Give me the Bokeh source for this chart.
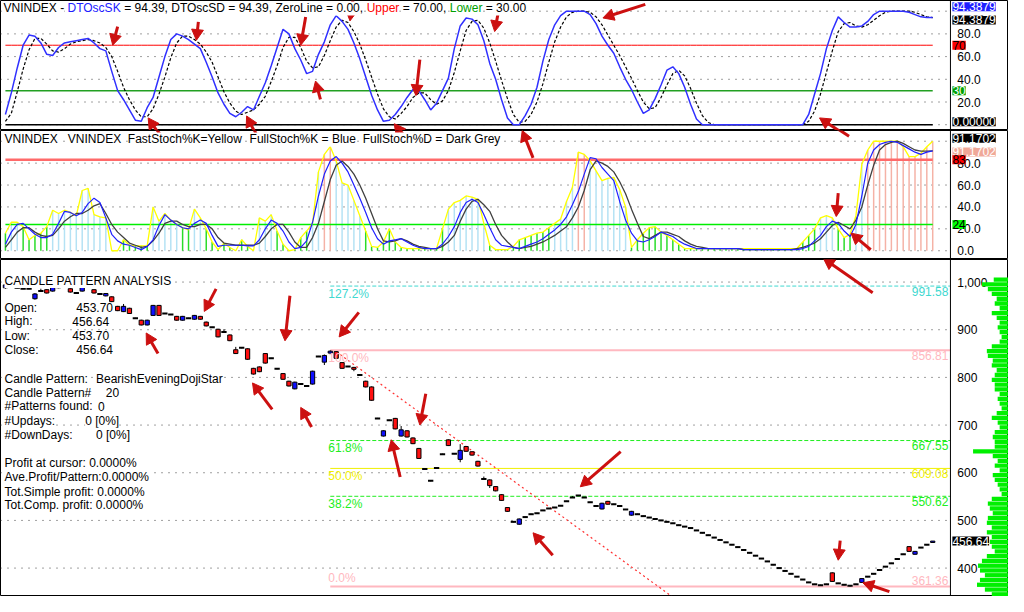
import math
from bokeh.plotting import figure
from bokeh.models import Range1d, Label, Span
from bokeh.layouts import column
from bokeh.embed import file_html
from bokeh.resources import INLINE
from bokeh.core.properties import value

FONT = "Liberation Sans"
FS = "12px"

# ------------------------------------------------------------------ data
# DT oscillator (top panel)
SK = [9, 28, 50, 70, 79, 78, 72, 62, 61, 68,
      72, 73, 74, 75, 76, 72, 67, 65, 47, 30,
      22, 13, 4, 3, 15, 24, 42, 60, 75, 80,
      78, 75, 71, 67, 55, 42, 28, 18, 10, 7,
      11, 16, 13, 25, 37, 52, 68, 84, 80, 67,
      57, 45, 47, 62, 73, 88, 96, 91, 84, 72,
      58, 42, 26, 13, 3, 4, 9, 16, 24, 31,
      30, 22, 13, 19, 30, 41, 67, 87, 94, 93,
      88, 74, 54, 40, 22, 6, 0, 0, 8, 18,
      33, 56, 75, 88, 96, 100, 100, 100, 100, 97,
      89, 78, 70, 63, 51, 40, 31, 20, 10, 13,
      23, 35, 48, 51, 45, 33, 18, 5, 0, 0,
      0, 0, 0, 0, 0, 0, 0, 0, 0, 0,
      0, 0, 0, 0, 0, 0, 9, 27, 45, 67,
      83, 95, 90, 86, 86, 87, 91, 97, 100, 100,
      100, 100, 100, 99, 97, 95, 94.4, 94.3879]
SD = [3, 10, 29, 49, 66, 76, 76, 71, 65, 64,
      67, 71, 73, 74, 75, 74, 72, 68, 60, 47,
      33, 22, 13, 7, 7, 14, 27, 42, 59, 72,
      78, 78, 75, 71, 64, 55, 42, 29, 19, 12,
      9, 11, 13, 18, 25, 38, 52, 68, 77, 77,
      68, 56, 50, 51, 61, 74, 86, 92, 90, 82,
      71, 57, 42, 27, 14, 7, 5, 10, 16, 24,
      28, 28, 22, 18, 21, 30, 46, 65, 83, 91,
      92, 85, 72, 56, 39, 23, 9, 2, 3, 9,
      20, 36, 55, 73, 86, 95, 99, 100, 100, 99,
      95, 88, 79, 70, 61, 51, 41, 30, 20, 14,
      15, 24, 35, 45, 48, 43, 32, 19, 8, 2,
      0, 0, 0, 0, 0, 0, 0, 0, 0, 0,
      0, 0, 0, 0, 0, 0, 3, 12, 27, 46,
      65, 82, 89, 90, 87, 86, 88, 92, 96, 99,
      100, 100, 100, 100, 99, 97, 95, 94.3879]
DT_UPPER = 70
DT_LOWER = 30
DT_ZERO = 0
DT_TICKS = [0, 20, 40, 60, 80, 100]
DT_LABEL_TICKS = [20, 40, 60, 80]

# Stochastics (middle panel)
FAST_K = [16, 26, 26, 22, 10, 14, 16, 22, 37, 34,
          37, 35, 32, 55, 57, 33, 31, 30, 0, 0,
          10, 5, 4.5, 4.5, 4.5, 40, 27, 34, 28, 24,
          21, 19, 38, 30, 20, 8, 1, 7, 3, 0,
          10, 4, 0, 30, 27, 33, 18, 6, 0, 1,
          12, 18, 25, 72, 88, 95, 82, 62, 60, 46,
          32, 18, 4, 3, 8, 20, 8, 3, 2, 2,
          2, 2, 2, 2, 20, 38, 44, 46, 50, 49,
          47, 25, 5, 1, 1, 1, 4, 10, 12, 14,
          16, 17, 21, 25, 29, 45, 58, 90, 88, 82,
          73, 64, 66, 67, 56, 40, 3, 10, 16, 21,
          22, 17, 14, 10, 6, 2, 2, 2, 2, 2,
          2, 2, 2, 2, 2, 2, 2, 2, 2, 2,
          2, 2, 2, 2, 2, 8, 14, 20, 30, 32,
          30, 20, 12, 15, 32, 79, 92, 100, 100, 100,
          100, 100, 95, 86, 86, 89, 95, 100]
FULL_K = [6, 17, 24, 25, 20, 15, 12, 12, 15, 25,
          36, 35, 32, 35, 43, 48, 44, 30, 15, 9,
          6, 5, 3, 1, 4, 10, 23, 33, 28, 24,
          21, 20, 25, 28, 25, 14, 4, 5, 5, 5,
          5, 4.5, 4.5, 10, 20, 28, 25, 18, 8, 2,
          3, 9, 26, 50, 70, 82, 86, 80, 72, 60,
          48, 35, 21, 11, 6, 9, 10, 11, 8, 5,
          3, 2, 2, 2, 6, 13, 22, 35, 44, 47,
          44, 33, 21, 10, 5, 4, 3, 2, 4, 6,
          8, 11, 15, 19, 24, 31, 42, 54, 70, 85,
          84, 76, 70, 64, 45, 28, 16, 9, 8, 10,
          13, 17, 15, 13, 9, 6, 4, 2, 2, 2,
          2, 2, 2, 2, 2, 1, 1, 1, 1, 1,
          1, 1, 1, 1, 1, 2, 4, 9, 14, 22,
          27, 25, 18, 13, 24, 50, 80, 92, 97, 99,
          100, 99, 96, 93, 90, 88, 90, 91.1702]
FULL_D = [3, 10, 17, 21, 21, 17, 14, 13, 14, 20,
          27, 31, 34, 34, 37, 41, 43, 34, 24, 17,
          12, 7, 5, 3, 4, 9, 16, 25, 27, 27,
          24, 22, 22, 24, 24, 20, 12, 7, 6, 5,
          5, 5, 5, 7, 13, 20, 24, 24, 17, 8,
          3, 3, 12, 25, 45, 65, 78, 82, 77, 70,
          60, 48, 34, 20, 9, 8, 9, 11, 9, 6,
          4, 3, 2, 2, 4, 8, 14, 27, 38, 45,
          47, 42, 36, 24, 14, 8, 3, 2, 3, 4,
          6, 8, 11, 14, 18, 22, 30, 40, 55, 74,
          82, 80, 77, 72, 63, 52, 38, 25, 13, 11,
          14, 17, 17, 15, 13, 9, 6, 4, 3, 2,
          2, 2, 2, 2, 2, 1, 1, 1, 1, 1,
          1, 1, 1, 1, 2, 3, 5, 7, 11, 17,
          23, 26, 23, 20, 28, 40, 60, 78, 92, 97,
          99, 100, 98, 95, 92, 91, 91, 91.1702]
ST_UPPER = 83
ST_LOWER = 24
ST_TICKS = [0, 20, 40, 60, 80, 100]
ST_LABEL_TICKS = [0, 20, 40, 60, 80]

# Candles (bottom panel)
OPEN = [988, 990, 988, 986, 986, 965, 981, 984, 981, 992,
        990, 986, 977, 981, 990, 984, 975, 971, 969, 949,
        938, 945, 924, 920, 910, 930, 951, 934, 932, 928,
        920, 924, 922, 928, 916, 905, 901, 895, 889, 858,
        862, 860, 819, 822, 850, 840, 818, 808, 792, 776,
        786, 782, 786, 844, 832, 851, 854, 831, 823, 821,
        805, 792, 780, 714, 677, 710, 714, 677, 688, 673,
        651, 608, 583, 610, 639, 669, 640, 628, 655, 644,
        624, 587, 585, 571, 554, 527, 497, 492, 507, 513,
        515, 521, 525, 527, 531, 540, 548, 552, 548, 538,
        530, 524, 540, 534, 530, 523, 511, 513, 509, 506,
        503, 500, 497, 494, 490, 487, 484, 479, 474, 469,
        464, 459, 454, 449, 444, 438, 432, 426, 420, 414,
        407, 400, 394, 388, 382, 376, 370, 366, 364, 366,
        390, 368, 365, 363, 366, 370, 382, 388, 396, 403,
        410, 419, 429, 445, 429, 443, 449, 453.70]
HIGH = [996, 991, 989, 987, 987, 977, 986, 985, 991, 993,
        991, 987, 979, 991, 992, 985, 976, 977, 970, 950,
        954, 946, 925, 921, 921, 952, 952, 935, 933, 929,
        929, 925, 931, 929, 917, 906, 902, 901, 890, 864,
        863, 861, 820, 823, 851, 841, 819, 809, 793, 791,
        787, 783, 814, 845, 848, 856.81, 855, 832, 824, 822,
        806, 793, 781, 715, 689, 711, 715, 698, 689, 674,
        652, 609, 584, 611, 640, 670, 641, 660, 656, 645,
        625, 592, 586, 572, 555, 528, 498, 504, 508, 514,
        516, 522, 526, 528, 532, 541, 551, 553, 549, 539,
        531, 537, 541, 535, 531, 524, 520, 514, 510, 507,
        504, 501, 498, 495, 491, 488, 485, 480, 475, 470,
        465, 460, 455, 450, 445, 439, 433, 427, 421, 415,
        408, 401, 395, 389, 383, 377, 371, 367, 365, 367,
        391, 369, 366, 364, 367, 379, 383, 389, 397, 404,
        411, 420, 430, 446, 436, 444, 450, 456.64]
LOW = [986, 989, 987, 985, 985, 963, 980, 976, 980, 987,
       989, 978, 976, 980, 989, 976, 974, 970, 958, 939,
       937, 933, 923, 909, 909, 929, 929, 933, 931, 919,
       919, 923, 921, 921, 907, 904, 884, 894, 876, 849,
       861, 837, 806, 811, 829, 839, 817, 795, 781, 775,
       785, 781, 785, 843, 826, 849, 839, 818, 822, 813,
       804, 779, 751, 713, 676, 709, 691, 676, 674, 660,
       629, 607, 582, 609, 638, 656, 639, 622, 644, 636,
       613, 586, 568, 561, 541, 518, 496, 491, 506, 512,
       514, 520, 524, 526, 530, 539, 547, 551, 547, 537,
       529, 523, 533, 533, 529, 522, 510, 512, 508, 505,
       502, 499, 496, 493, 489, 486, 483, 478, 473, 468,
       463, 458, 453, 448, 443, 437, 431, 425, 419, 413,
       406, 399, 393, 387, 381, 375, 369, 365, 363, 365,
       371, 367, 364, 361.36, 365, 369, 381, 387, 395, 402,
       409, 418, 428, 434, 428, 442, 448, 453.70]
CLOSE = [994, 990, 988, 986, 986, 975, 981, 977, 990, 988,
         990, 979, 977, 990, 990, 977, 975, 976, 959, 940,
         949, 934, 924, 910, 920, 951, 930, 934, 932, 920,
         928, 924, 930, 922, 908, 905, 885, 895, 877, 850,
         862, 838, 807, 812, 830, 840, 818, 796, 782, 790,
         786, 782, 813, 844, 846, 855, 840, 819, 823, 817,
         805, 780, 752, 714, 688, 710, 692, 690, 675, 661,
         630, 608, 583, 610, 639, 657, 640, 647, 645, 637,
         614, 587, 573, 562, 542, 519, 497, 503, 507, 513,
         515, 521, 525, 527, 531, 540, 548, 552, 548, 538,
         530, 536, 534, 534, 530, 523, 519, 513, 509, 506,
         503, 500, 497, 494, 490, 487, 484, 479, 474, 469,
         464, 459, 454, 449, 444, 438, 432, 426, 420, 414,
         407, 400, 394, 388, 382, 376, 370, 366, 364, 366,
         372, 368, 365, 363, 366, 378, 382, 388, 396, 403,
         410, 419, 429, 435, 435, 443, 449, 456.64]
PRICE_TICKS = [400, 500, 600, 700, 800, 900, 1000]

# Fibonacci levels
FIB_PCT = ["127.2%", "100.0%", "61.8%", "50.0%", "38.2%", "0.0%"]
FIB_VAL = [991.58, 856.81, 667.55, 609.08, 550.62, 361.36]

# red dotted trend line (bar index, price)
TREND_X = [56, 114]
TREND_Y = [854, 330]

# volume-at-price profile
VP_PRICE = [1005, 995, 985, 975, 965, 955, 945, 935, 925, 915,
            905, 895, 885, 875, 865, 855, 845, 835, 825, 815,
            805, 795, 785, 775, 765, 755, 745, 735, 725, 715,
            705, 695, 685, 675, 665, 655, 645, 635, 625, 615,
            605, 595, 585, 575, 565, 555, 545, 535, 525, 515,
            505, 495, 485, 475, 465, 455, 445, 435, 425, 415,
            405, 395, 385, 375, 365, 355, 345]
VP_VOL = [15, 27, 21, 17, 12, 14, 9, 17, 12, 9,
          11, 9, 7, 9, 17, 22, 21, 16, 17, 12,
          14, 17, 14, 14, 9, 11, 9, 7, 12, 17,
          11, 9, 14, 16, 14, 14, 36, 16, 11, 14,
          9, 16, 14, 11, 9, 7, 17, 21, 19, 16,
          21, 22, 17, 22, 17, 19, 17, 14, 22, 27,
          31, 29, 24, 29, 32, 24, 17]

for _name, _arr in [("SK", SK), ("SD", SD), ("FAST_K", FAST_K), ("FULL_K", FULL_K),
                    ("FULL_D", FULL_D), ("OPEN", OPEN), ("HIGH", HIGH), ("LOW", LOW), ("CLOSE", CLOSE)]:
    if len(_arr) != 158:
        raise SystemExit(f"{_name} has {len(_arr)} values")

N = len(CLOSE)
BARS = list(range(N))

# hand-drawn red arrows (reference pixel coords: tail x, tail y, head x, head y)
ARROWS = [
    (119, 27, 114, 46), (201, 22, 199, 41), (310, 17, 305, 46), (358, 0, 355, 21),
    (507, 5, 502, 32), (655, 4, 612, 18), (162, 139, 150, 121), (260, 139, 250, 119),
    (325, 102, 320, 83), (426, 61, 422, 98), (412, 143, 400, 127), (541, 163, 530, 135),
    (862, 141, 832, 121), (851, 199, 849, 223), (884, 257, 864, 240), (886, 302, 836, 267),
    (160, 364, 148, 343), (219, 298, 207, 321), (276, 421, 256, 394), (294, 305, 289, 351),
    (316, 439, 305, 419), (364, 322, 344, 347), (432, 405, 426, 437), (406, 490, 397, 452),
    (630, 464, 589, 500), (561, 570, 541, 547), (853, 555, 851, 575), (903, 607, 876, 598),
]
ARROW_COLOR = "#cc1010"

# ------------------------------------------------------------------ helpers
W = 1008                       # canvas / frame width
XR = (-0.833, 169.83)          # bar-index range over the full width
SEP = 160.0                    # price-scale separator (bar-index units)
KX = W / 1024.0                # reference px -> canvas px

ARIAL = {' ': 278, '-': 333, '.': 278, ',': 278, '=': 584, '%': 889, '#': 556, ':': 278,
         '/': 278, '[': 278, ']': 278, 'A': 667, 'B': 667, 'C': 722, 'D': 722, 'E': 667,
         'F': 611, 'G': 778, 'H': 722, 'I': 278, 'K': 667, 'L': 556, 'M': 833, 'N': 722,
         'O': 778, 'P': 667, 'R': 722, 'S': 667, 'T': 611, 'U': 722, 'V': 667, 'W': 944,
         'X': 667, 'Y': 667, 'Z': 611, 'a': 556, 'b': 556, 'c': 500, 'd': 556, 'e': 556,
         'f': 278, 'g': 556, 'h': 556, 'i': 222, 'j': 222, 'k': 500, 'l': 222, 'm': 833,
         'n': 556, 'o': 556, 'p': 556, 'r': 333, 's': 500, 't': 278, 'u': 556, 'v': 500,
         'w': 722, 'x': 500, 'y': 500, 'z': 500}


def tw(s):
    return sum(ARIAL.get(c, 556) for c in s) * 12 / 1000.0


def rx(px):
    return (px - 5) / 6.0


def ry_top(py):
    return (128 - py) / 1.17


def ry_mid(py):
    return (258 - py) / 1.12


def ry_bot(py):
    return 1000 - (py - 291) / 0.4867


def make_fig(h, yr, ticks, label_ticks, labels):
    p = figure(frame_width=W, frame_height=h, x_range=Range1d(*XR), y_range=yr,
               output_backend="svg", toolbar_location=None, x_axis_location=None,
               y_axis_location=None, min_border_left=0, min_border_top=0,
               min_border_bottom=0, min_border_right=0,
               background_fill_color="white", border_fill_color="white",
               outline_line_color="black", outline_line_width=1)
    p.xgrid.visible = False
    p.ygrid.visible = False
    # dotted horizontal grid inside the chart area
    p.segment(x0=[XR[0]] * len(ticks), y0=ticks, x1=[SEP] * len(ticks), y1=ticks,
              line_color="#404040", line_dash="1 6", line_width=1)
    # price scale separator
    p.add_layout(Span(location=SEP, dimension="height", line_color="black", line_width=1))
    # price-scale labels (right side)
    p.text(x=[rx(972)] * len(label_ticks), y=label_ticks, text=labels,
           text_font=value(FONT), text_font_size=value(FS), text_color="black",
           text_baseline="middle", text_align="left")
    return p


def txt(p, x_px, y, text, color="black", bg="white", align="left", baseline="middle"):
    p.add_layout(Label(x=x_px, x_units="screen", y=y, y_units="data", text=text,
                       text_color=color, text_font=FONT, text_font_size=FS,
                       text_align=align, text_baseline=baseline,
                       background_fill_color=bg))


def header(p, y, segments, x_start=3, gaps=None):
    x = x_start
    for k, (seg, col) in enumerate(segments):
        txt(p, x, y, seg, color=col, baseline="top")
        gap = tw(" ") if gaps is None else gaps[k]
        x += tw(seg) + gap


def add_arrows(p, ymap):
    x0, y0, x1, y1, hxs, hys = [], [], [], [], [], []
    L, Wd = 11.0, 6.0
    for tx, ty, hx, hy in ARROWS:
        dx, dy = hx - tx, hy - ty
        d = math.hypot(dx, dy)
        ux, uy = dx / d, dy / d
        bx, by = hx - ux * L, hy - uy * L
        nx, ny = -uy, ux
        x0.append(rx(tx)); y0.append(ymap(ty))
        x1.append(rx(bx + ux * 2)); y1.append(ymap(by + uy * 2))
        hxs.append([rx(hx), rx(bx + nx * Wd), rx(bx - nx * Wd)])
        hys.append([ymap(hy), ymap(by + ny * Wd), ymap(by - ny * Wd)])
    p.segment(x0, y0, x1, y1, line_color=ARROW_COLOR, line_width=3)
    p.patches(hxs, hys, fill_color=ARROW_COLOR, line_color=ARROW_COLOR, line_width=1)


BOX_X = 967 * KX

# ------------------------------------------------------------------ top panel
top = make_fig(130, Range1d(-5.1, 109.4), DT_TICKS, DT_LABEL_TICKS,
               [f"{t:.1f}" for t in DT_LABEL_TICKS])
top.line(BARS, [DT_UPPER] * N, line_color="#ff0000", line_width=1)
top.line(BARS, [DT_LOWER] * N, line_color="#22a022", line_width=1.5)
top.line(BARS, [DT_ZERO] * N, line_color="black", line_width=1.5)
top.line(BARS, SD, line_color="black", line_width=1.2, line_dash="3 2")
top.line(BARS, SK, line_color="#3030ff", line_width=1.5)

header(top, ry_top(1), [
    ("VNINDEX -", "black"), ("DTOscSK", "#2020ff"),
    (f"= {SK[-1]:.2f}, DTOscSD = {SD[-1]:.2f}, ZeroLine = {DT_ZERO:.2f},", "black"),
    ("Upper", "#ff0000"), (f"= {DT_UPPER:.2f},", "black"),
    ("Lower", "#00a000"), (f"= {DT_LOWER:.2f}", "black")])

txt(top, BOX_X, ry_top(6.5), f"{SK[-1]:.4f}", color="white", bg="#2020ff")
txt(top, BOX_X, ry_top(20), f"{SD[-1]:.4f}", color="white", bg="black")
txt(top, BOX_X, DT_UPPER, f"{DT_UPPER}", color="black", bg="#ff0000")
txt(top, BOX_X, DT_LOWER, f"{DT_LOWER}", color="white", bg="#00a000")
txt(top, BOX_X, ry_top(125), f"{DT_ZERO:.5f}", color="white", bg="black")
add_arrows(top, ry_top)

# ------------------------------------------------------------------ middle panel
mid = make_fig(129, Range1d(-8, 109.8), ST_TICKS, ST_LABEL_TICKS,
               [f"{t:.1f}" for t in ST_LABEL_TICKS])
hist_colors = ["#f5b2a6" if v >= ST_UPPER else ("#28dc28" if v < ST_LOWER else "#b4e2f4")
               for v in FAST_K]
mid.vbar(x=BARS, width=0.25, top=FAST_K, bottom=0, fill_color=hist_colors, line_color=None)
mid.line(BARS, [ST_UPPER] * N, line_color="#ff6a6a", line_width=2.5)
mid.line(BARS, [ST_LOWER] * N, line_color="#00ee00", line_width=1.5)
mid.line(BARS, FAST_K, line_color="#ffff00", line_width=1.3)
mid.line(BARS, FULL_D, line_color="#404040", line_width=1.3)
mid.line(BARS, FULL_K, line_color="#2020ff", line_width=1.2)

sp = tw(" ")
header(mid, ry_mid(137), [
    ("VNINDEX", "black"), ("VNINDEX", "black"), ("FastStoch%K=Yellow", "black"),
    ("FullStoch%K = Blue", "black"), ("FullStoch%D = Dark Grey", "black")],
    x_start=4, gaps=[3 * sp, 2 * sp, 2 * sp, 2 * sp, sp])

txt(mid, BOX_X, ry_mid(143), f"{FULL_D[-1]:.4f}", color="white", bg="black")
txt(mid, BOX_X, ry_mid(157), f"{FULL_K[-1]:.4f}", color="white", bg="#f0a898")
txt(mid, BOX_X, ST_UPPER, f"{ST_UPPER}", color="black", bg="#ff0000")
txt(mid, BOX_X, ST_LOWER, f"{ST_LOWER}", color="black", bg="#00ff00")
add_arrows(mid, ry_mid)

# ------------------------------------------------------------------ bottom panel
bot = make_fig(337, Range1d(340.4, 1047.3), PRICE_TICKS, PRICE_TICKS,
               [f"{t:,}" for t in PRICE_TICKS])

# volume-at-price profile growing from the right edge (reference px units)
bot.extra_x_ranges = {"vp": Range1d(1024, 0)}
bot.hbar(y=VP_PRICE, left=0, right=VP_VOL, height=9, fill_color="#00f000", line_color=None,
         x_range_name="vp")

# fibonacci levels from the swing high
peak = max(range(45, 70), key=lambda i: HIGH[i])
FIB_COLOR = ["#40d8d0", "#ffb8c0", "#20ee20", "#f0f000", "#20ee20", "#ffb8c0"]
FIB_DASH = ["4 2", "solid", "4 2", "solid", "4 2", "solid"]
FIB_W = [1, 2, 1, 1, 1, 2]
for lvl, col, dash, w in zip(FIB_VAL, FIB_COLOR, FIB_DASH, FIB_W):
    bot.segment(x0=[peak], y0=[lvl], x1=[SEP], y1=[lvl], line_color=col,
                line_dash=dash, line_width=w)
for k, (pct, lvl, col) in enumerate(zip(FIB_PCT, FIB_VAL, FIB_COLOR)):
    last = k == len(FIB_VAL) - 1
    yy, base = (lvl + 3, "bottom") if last else (lvl - 2, "top")
    txt(bot, 333 * KX, yy, pct, color=col, bg=None, baseline=base)
    txt(bot, 963 * KX, yy, f"{lvl:.2f}", color=col, bg=None, align="right", baseline=base)

bot.line(TREND_X, TREND_Y, line_color="#ff3030", line_width=1.2, line_dash="2 3")

# candles
up = [i for i in BARS if CLOSE[i] > OPEN[i]]
dn = [i for i in BARS if CLOSE[i] < OPEN[i]]
eq = [i for i in BARS if CLOSE[i] == OPEN[i]]
bot.segment(x0=BARS, y0=LOW, x1=BARS, y1=HIGH, line_color="black", line_width=1)
bot.vbar(x=up, width=0.72, bottom=[OPEN[i] for i in up], top=[CLOSE[i] for i in up],
         fill_color="#1010ff", line_color="black", line_width=1)
bot.vbar(x=dn, width=0.72, bottom=[CLOSE[i] for i in dn], top=[OPEN[i] for i in dn],
         fill_color="#ff1010", line_color="black", line_width=1)
bot.segment(x0=[i - 0.45 for i in eq], y0=[CLOSE[i] for i in eq],
            x1=[i + 0.45 for i in eq], y1=[CLOSE[i] for i in eq],
            line_color="black", line_width=2)

txt(bot, 4, ry_bot(290), "CANDLE PATTERN ANALYSIS")
INFO = [
    ("Open:", f"{OPEN[-1]:.2f}", 77, 317),
    ("High:", f"{HIGH[-1]:.2f}", 73, 331),
    ("Low:", f"{LOW[-1]:.2f}", 73, 346),
    ("Close:", f"{CLOSE[-1]:.2f}", 77, 360),
    ("Candle Pattern:", "BearishEveningDojiStar", 97, 390),
    ("Candle Pattern#", "20", 107, 404),
    ("#Patterns found:", "0", 99, 418),
    ("#Updays:", "0 [0%]", 86, 433),
    ("#DownDays:", "0 [0%]", 97, 447),
    ("Profit at cursor: 0.0000%", "", 0, 476),
    ("Ave.Profit/Pattern:0.0000%", "", 0, 490),
    ("Tot.Simple profit: 0.0000%", "", 0, 505),
    ("Tot.Comp. profit: 0.0000%", "", 0, 519),
]
for lab, val, vx, vy in INFO:
    txt(bot, 4, ry_bot(vy), lab)
    if val:
        txt(bot, vx * KX, ry_bot(vy), val)

txt(bot, BOX_X, CLOSE[-1], f"{CLOSE[-1]:.2f}", color="white", bg="black")
add_arrows(bot, ry_bot)

layout = column(top, mid, bot)
open("out.html", "w").write(file_html(layout, INLINE, title="VNINDEX"))
